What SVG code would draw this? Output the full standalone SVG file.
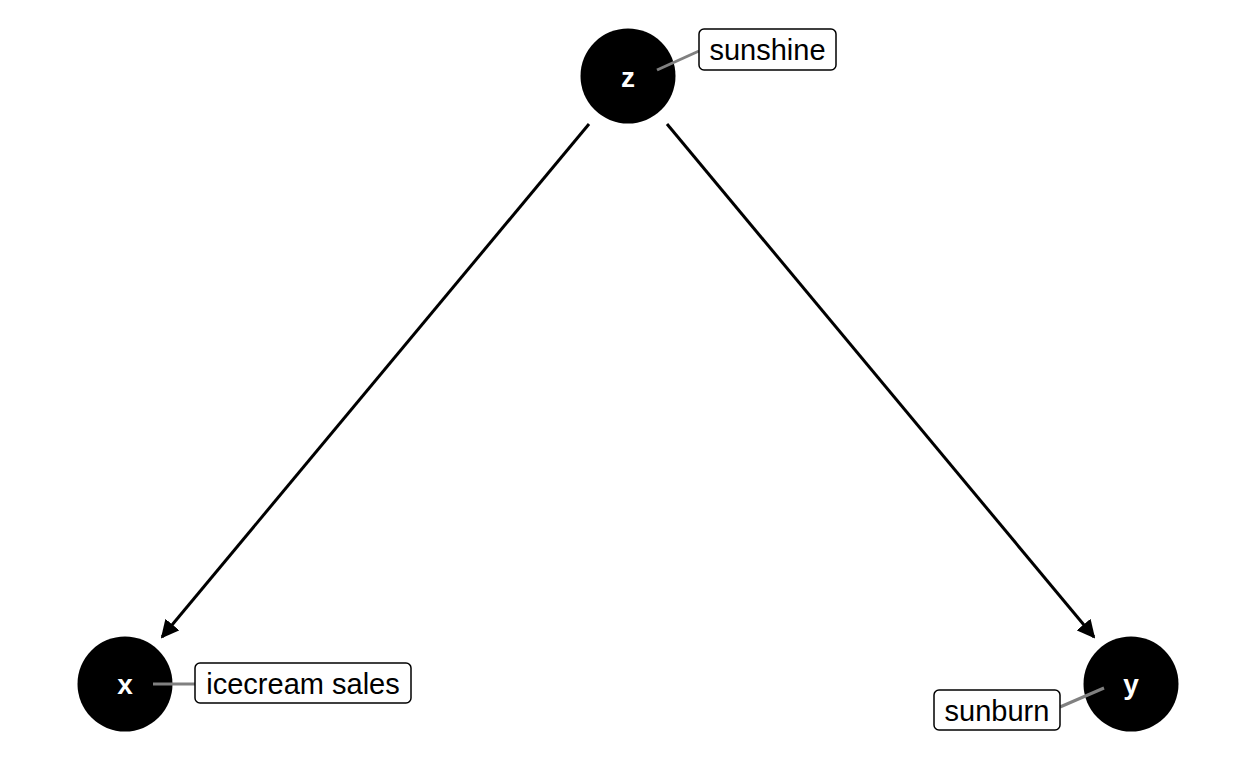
<svg xmlns="http://www.w3.org/2000/svg" width="1248" height="768" viewBox="0 0 1248 768">
<defs>
<style>
.node{fill:#000}
.nl{fill:#fff;font-family:"Liberation Sans",Arial,sans-serif;font-weight:bold;font-size:28px;text-anchor:middle}
.edge{stroke:#000;stroke-width:3;fill:none}
.lead{stroke:#808080;stroke-width:3}
.box{fill:#fff;stroke:#000;stroke-width:1.5}
.lt{fill:#000;font-family:"Liberation Sans",Arial,sans-serif;font-size:29px}
</style>
<marker id="ah" viewBox="0 0 10 10" refX="9" refY="5" markerWidth="6" markerHeight="6" orient="auto" markerUnits="strokeWidth">
<path d="M0,0 L10,5 L0,10 z" fill="#000"/>
</marker>
</defs>
<rect width="1248" height="768" fill="#fff"/>
<g id="connectors">
<line class="edge" x1="589" y1="124" x2="162" y2="637" marker-end="url(#ah)"/>
<line class="edge" x1="667" y1="124" x2="1094" y2="637" marker-end="url(#ah)"/>
</g>
<g id="node-z">
<circle class="node" cx="628" cy="76" r="47.5"/>
<text class="nl" x="628" y="87">z</text>
<line class="lead" x1="657" y1="70" x2="699" y2="51"/>
<rect class="box" x="699" y="29" width="137" height="41" rx="5"/>
<text class="lt" x="767.5" y="60" text-anchor="middle">sunshine</text>
</g>
<g id="node-x">
<circle class="node" cx="125" cy="684" r="47.5"/>
<text class="nl" x="125" y="694">x</text>
<line class="lead" x1="153" y1="684" x2="195" y2="684"/>
<rect class="box" x="195" y="663" width="216" height="40" rx="5"/>
<text class="lt" x="303" y="694" text-anchor="middle">icecream sales</text>
</g>
<g id="node-y">
<circle class="node" cx="1131" cy="684" r="47.5"/>
<text class="nl" x="1131" y="694">y</text>
<line class="lead" x1="1104" y1="688" x2="1060" y2="707"/>
<rect class="box" x="934" y="690" width="126" height="40" rx="5"/>
<text class="lt" x="997" y="721" text-anchor="middle">sunburn</text>
</g>
</svg>
